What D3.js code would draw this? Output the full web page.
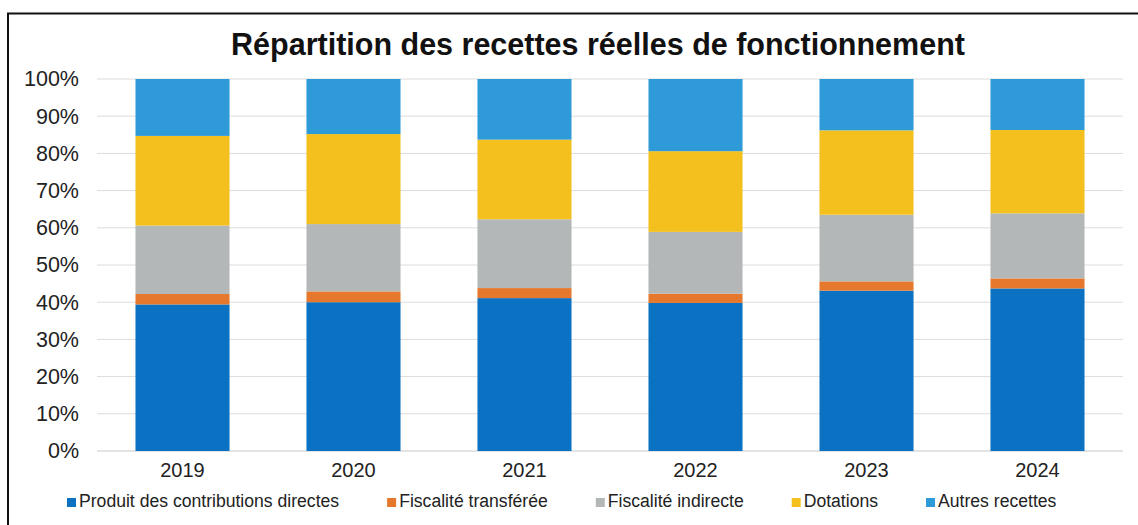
<!DOCTYPE html>
<html><head><meta charset="utf-8">
<script src="https://cdn.jsdelivr.net/npm/d3@7"></script>
<style>
html,body{margin:0;padding:0;background:#fff;}
svg{display:block;font-family:"Liberation Sans",Arial,sans-serif;}
</style></head>
<body><svg id="c" width="1138" height="525"></svg>
<script>
const years = ["2019","2020","2021","2022","2023","2024"];
const seriesNames = ["Produit des contributions directes","Fiscalité transférée","Fiscalité indirecte","Dotations","Autres recettes"];
const contributionsDirectes = [39.4, 40.0, 41.1, 39.8, 43.1, 43.7];
const fiscaliteTransferee   = [2.8, 2.9, 2.7, 2.5, 2.5, 2.7];
const fiscaliteIndirecte    = [18.4, 18.1, 18.5, 16.6, 17.9, 17.5];
const dotations             = [24.1, 24.2, 21.4, 21.7, 22.7, 22.4];
const autresRecettes        = [15.3, 14.8, 16.3, 19.4, 13.8, 13.7];
const yTicks = [0,0.1,0.2,0.3,0.4,0.5,0.6,0.7,0.8,0.9,1.0];
const colors = ["#0b72c3","#e6782d","#b3b7b7","#f4c01e","#2e9ad8"];

const seriesValues = [contributionsDirectes, fiscaliteTransferee, fiscaliteIndirecte, dotations, autresRecettes];
const table = years.map((y,i)=>{const r={year:y}; seriesNames.forEach((n,k)=>r[n]=seriesValues[k][i]); return r;});
const stacked = d3.stack().keys(seriesNames).offset(d3.stackOffsetExpand)(table);

const svg = d3.select("#c");
const W=1138,H=525;
svg.append("path").attr("d",`M8,${H} L8,13.5 L${W},13.5`).attr("fill","none").attr("stroke","#111").attr("stroke-width",2);

const m={left:97,right:1123,top:79,bottom:451};
const x=d3.scaleBand().domain(years).range([m.left,m.right]).paddingInner(0.45).paddingOuter(0.225);
const y=d3.scaleLinear().domain([0,1]).range([m.bottom,m.top]);

svg.append("text").attr("x",598).attr("y",55).attr("text-anchor","middle")
  .attr("font-size",30.5).attr("font-weight","bold").attr("fill","#111")
  .text("Répartition des recettes réelles de fonctionnement");

svg.append("g").selectAll("line").data(yTicks).join("line")
  .attr("x1",m.left).attr("x2",m.right).attr("y1",d=>y(d)).attr("y2",d=>y(d))
  .attr("stroke",d=>d===0?"#c8c8c8":"#dcdcdc").attr("stroke-width",1);

const yAxis=d3.axisLeft(y).tickValues(yTicks).tickFormat(d3.format(".0%")).tickSize(0).tickPadding(18);
const gy=svg.append("g").attr("transform",`translate(${m.left},0)`).call(yAxis);
gy.select(".domain").remove();
gy.selectAll("text").attr("font-size",21.5).attr("fill","#222").attr("font-family","Liberation Sans, Arial, sans-serif");

svg.append("g").selectAll("g").data(stacked).join("g").attr("fill",(d,i)=>colors[i])
  .selectAll("rect").data(d=>d).join("rect")
  .attr("x",d=>x(d.data.year)).attr("width",x.bandwidth())
  .attr("y",d=>y(d[1])).attr("height",d=>y(d[0])-y(d[1]));

const xAxis=d3.axisBottom(x).tickSize(0).tickPadding(12);
const gx=svg.append("g").attr("transform",`translate(0,${m.bottom})`).call(xAxis);
gx.select(".domain").remove();
gx.selectAll("text").attr("font-size",20).attr("fill","#222").attr("font-family","Liberation Sans, Arial, sans-serif");

const lg=svg.append("g").attr("transform","translate(67,0)");
let cx=0;
seriesNames.forEach((n,i)=>{
  const g=lg.append("g").attr("transform",`translate(${cx},0)`);
  g.append("rect").attr("x",0).attr("y",498).attr("width",9).attr("height",9).attr("fill",colors[i]);
  const t=g.append("text").attr("x",12).attr("y",507).attr("font-size",17.6).attr("fill","#222").text(n);
  cx+=12+t.node().getComputedTextLength()+48;
});
</script></body></html>
